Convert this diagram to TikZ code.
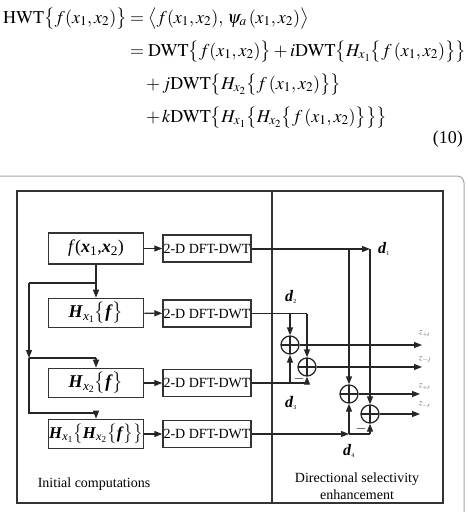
\documentclass[tikz,border=0pt]{standalone}
\usepackage{amsmath}
\usepackage{mathptmx}
\usepackage{fontspec}
\setmainfont{Liberation Serif}
\usetikzlibrary{arrows.meta}

\newcommand{\bH}{\textbf{\textit{H}}}
\newcommand{\bF}{\textbf{\textit{f}}}
\newcommand{\bX}{\textbf{\textit{x}}}
\newcommand{\dsig}[1]{\textbf{\textit{d}}\textsubscript{\fontsize{6}{7}\selectfont #1}}

\tikzset{
  eqn/.style={inner sep=0pt, font=\fontsize{18}{21}\selectfont},
  srcbox/.style={draw=black!80, line width=1.6pt, minimum width=95pt, minimum height=29pt,
    inner sep=0pt, font=\fontsize{18}{20}\selectfont},
  dftbox/.style={draw=black!80, line width=1.4pt, minimum width=88pt, minimum height=27pt,
    inner sep=0pt, font=\fontsize{14}{15}\selectfont},
  sumc/.style={circle, draw=black!85, line width=1.3pt, minimum size=18pt, inner sep=0pt,
    path picture={\draw[line width=1.1pt, black!85]
      (path picture bounding box.north) -- (path picture bounding box.south)
      (path picture bounding box.west) -- (path picture bounding box.east);}},
  wire/.style={line width=1.3pt, draw=black!85},
  arr/.style={wire, -{Triangle[length=8pt,width=6pt]}},
  lbl/.style={inner sep=0pt, font=\fontsize{16}{17}\selectfont},
  minus/.style={inner sep=0pt, font=\fontsize{14}{15}\selectfont},
  tiny/.style={inner sep=0pt, text=black!70, font=\fontsize{8.5}{9}\selectfont},
  caption/.style={inner sep=0pt, font=\fontsize{14}{17}\selectfont, align=center},
}

\begin{document}
\begin{tikzpicture}[x=1pt, y=-1pt]
\useasboundingbox (0,0) rectangle (468,512);
\clip (0,0) rectangle (468,512);

% ---- equation (10) ----
\node[eqn, anchor=base east] (e1l) at (127,23)
  {$\mathrm{HWT}\bigl\{f(x_1,x_2)\bigr\}$};
\node[eqn, anchor=base west] (e1r) at (130,23)
  {$=\bigl\langle f(x_1,x_2),\,\psi_a\,(x_1,x_2)\bigr\rangle$};
\node[eqn, anchor=base west] (e2) at (130,56)
  {$=\mathrm{DWT}\bigl\{f(x_1,x_2)\bigr\}+i\mathrm{DWT}\bigl\{H_{x_1}\bigl\{f\,(x_1,x_2)\bigr\}\bigr\}$};
\node[eqn, anchor=base west] (e3) at (146,89)
  {$+\,j\mathrm{DWT}\bigl\{H_{x_2}\bigl\{f\,(x_1,x_2)\bigr\}\bigr\}$};
\node[eqn, anchor=base west] (e4) at (146,122)
  {$+\,k\mathrm{DWT}\bigl\{H_{x_1}\bigl\{H_{x_2}\bigl\{f\,(x_1,x_2)\bigr\}\bigr\}\bigr\}$};
\node[eqn, anchor=base east] (eno) at (463,143) {(10)};

% ---- frames ----
\draw[black!35, line width=1pt, rounded corners=7pt] (-10,176) rectangle (464,540);
\draw[black!80, line width=1.5pt] (17,191) rectangle (443,503);
\draw[black!80, line width=1.3pt] (272,191) -- (272,503);

% ---- initial computations ----
\node[srcbox, minimum height=31pt] (f)   at (96,248.5) {\textit{f}(\bX\textsubscript{1},\bX\textsubscript{2})};
\node[srcbox] (h1)  at (96,313) {\bH\textsubscript{\textit{x}\textsubscript{1}}$\bigl\{$\bF$\bigr\}$};
\node[srcbox] (h2)  at (96,383) {\bH\textsubscript{\textit{x}\textsubscript{2}}$\bigl\{$\bF$\bigr\}$};
\node[srcbox, font=\fontsize{16.5}{18}\selectfont] (h12) at (96,434)
  {\bH\textsubscript{\textit{x}\textsubscript{1}}$\bigl\{$\bH\textsubscript{\textit{x}\textsubscript{2}}$\bigl\{$\bF$\bigr\}\bigr\}$};

\node[dftbox] (t1) at (207,248.5) {2-D DFT-DWT};
\node[dftbox] (t2) at (207,313.5) {2-D DFT-DWT};
\node[dftbox] (t3) at (207,383)   {2-D DFT-DWT};
\node[dftbox] (t4) at (207,434)   {2-D DFT-DWT};

\draw[arr] (f) -- (t1);
\draw[arr] (h1) -- (t2);
\draw[arr] (h2) -- (t3);
\draw[arr] (h12) -- (t4);

\coordinate (b0) at (96,283);
\coordinate (l1) at (29,283);
\coordinate (l2) at (29,358);
\coordinate (l3) at (29,413);
\coordinate (k2) at (96,358);
\coordinate (k3) at (96,413);
\draw[arr] (f) -- (h1);
\draw[wire] (b0) -- (l1);
\draw[arr] (l1) -- (l2);
\draw[wire] (l2) -- (k2);
\draw[arr] (k2) -- (h2);
\draw[wire] (l2) -- (l3) -- (k3);
\draw[arr] (k3) -- (h12);

\node[caption] (ic) at (94,484) {Initial computations};

% ---- directional selectivity enhancement ----
\node[sumc] (c1) at (290,345) {};
\node[sumc] (c2) at (307,367) {};
\node[sumc] (c3) at (349,394) {};
\node[sumc] (c4) at (370,414) {};

% d1
\coordinate (d1a) at (349,249);
\coordinate (d1b) at (370,249);
\draw[arr] (t1.east |- d1b) -- (d1b);
\draw[arr] (d1a) -- (c3);
\draw[arr] (d1b) -- (c4);
\node[lbl, anchor=west] (d1) at (378,249) {\dsig{1}};

% d2
\coordinate (d2a) at (290,313.5);
\coordinate (d2b) at (307,313.5);
\draw[wire] (t2.east) -- (d2b);
\draw[arr] (d2b) -- (c2);
\draw[arr] (d2a) -- (c1);
\node[lbl] (d2) at (291,297) {\dsig{2}};

% d3
\coordinate (d3a) at (290,383);
\coordinate (d3b) at (307,383);
\draw[wire] (t3.east) -- (d3b);
\draw[arr] (d3b) -- (c2);
\draw[arr] (d3a) -- (c1);
\node[minus] (m1) at (299,379) {$-$};
\node[lbl] (d3) at (291,403) {\dsig{3}};

% d4
\coordinate (d4a) at (349,434);
\coordinate (d4b) at (370,434);
\draw[arr] (t4.east) -- (d4a);
\draw[wire] (d4a) -- (d4b);
\draw[arr] (d4a) -- (c3);
\draw[arr] (d4b) -- (c4);
\node[minus] (m2) at (361,429) {$-$};
\node[lbl] (d4) at (349,451) {\dsig{4}};

% outputs
\coordinate (o1) at (422,345);
\coordinate (o2) at (422,367);
\coordinate (o3) at (420,394);
\coordinate (o4) at (420,414);
\draw[arr] (c1) -- (o1);
\draw[arr] (c2) -- (o2);
\draw[arr] (c3) -- (o3);
\draw[arr] (c4) -- (o4);
\node[tiny, anchor=west] (z1) at (419,334) {$z_{+i}$};
\node[tiny, anchor=west] (z2) at (419,360) {$z_{-j}$};
\node[tiny, anchor=west] (z3) at (419,387) {$z_{+r}$};
\node[tiny, anchor=west] (z4) at (419,405) {$z_{-r}$};

\node[caption] (dse) at (357,486) {Directional selectivity\\enhancement};
\end{tikzpicture}
\end{document}
